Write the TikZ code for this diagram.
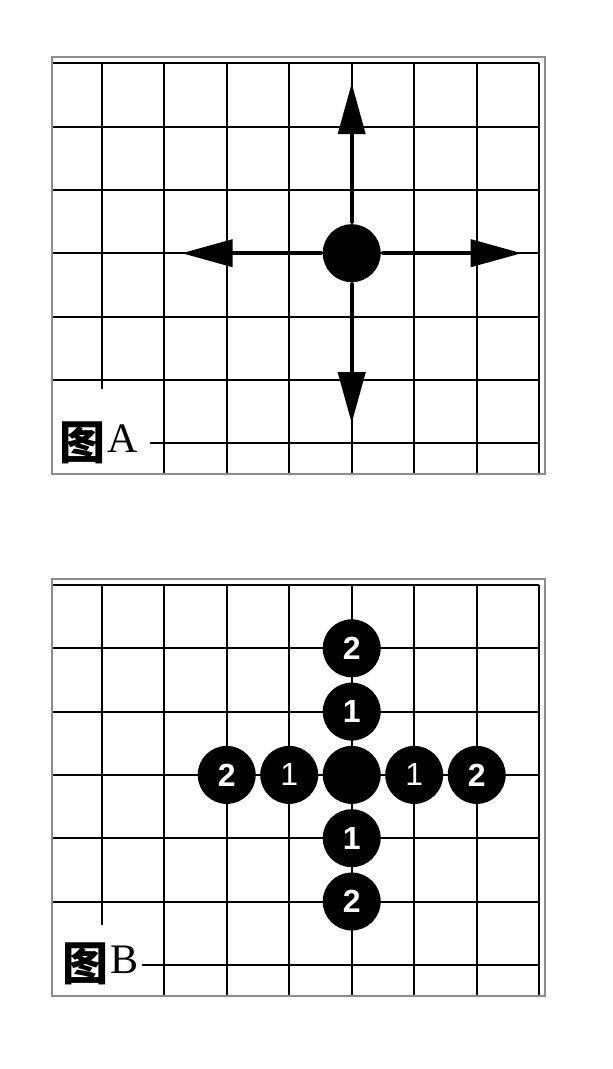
\documentclass[tikz,border=0pt]{standalone}
\usepackage{fontspec}
\setmainfont{Liberation Serif}
\newfontfamily\cjk{Noto Sans CJK SC}
\newfontfamily\stonefont{Liberation Sans}
\usetikzlibrary{arrows.meta}

\begin{document}
\begin{tikzpicture}[x=1pt, y=-1pt, line width=2pt,
    frame/.style={draw=black!45, line width=2.6pt},
    stone/.style={circle, fill=black, inner sep=0pt, minimum size=58pt, text=white,
      font=\stonefont\bfseries\fontsize{32}{32}\selectfont},
    thinstone/.style={stone, font=\stonefont\fontsize{32}{32}\selectfont},
    move/.style={line width=4pt, -{Triangle[length=51pt, width=27pt]}},
    figname/.style={inner sep=0pt, font=\cjk\bfseries\fontsize{46}{46}\selectfont},
    figletter/.style={inner sep=0pt, anchor=base west, font=\fontsize{42}{42}\selectfont}]
    \useasboundingbox (0,0) rectangle (613,1069);

    % board A
    \foreach \y in {63.3,126.6,189.9,253.2,316.5,379.8}
      \draw (53,\y) -- (539.2,\y);
    \draw (150,443.1) -- (539.2,443.1);
    \draw (101.7,63.3) -- (101.7,389);
    \foreach \x in {164.2,226.7,289.2,351.7,414.2,476.7,539.2}
      \draw (\x,63.3) -- (\x,474);
    \draw[frame] (52,57) rectangle (545,474);

    \node[stone] (CA) at (351.7,253.2) {};
    \coordinate (UpA) at (351.7,83.2);
    \coordinate (DownA) at (351.7,423.2);
    \coordinate (LeftA) at (181.7,253.2);
    \coordinate (RightA) at (521.7,253.2);
    \draw[move] (CA) -- (UpA);
    \draw[move] (CA) -- (DownA);
    \draw[move] (CA) -- (LeftA);
    \draw[move] (CA) -- (RightA);

    \node[figname] (TuA) at (82,442.5) {图};
    \node[figletter] (LA) at (106,452) {A};

    % board B
    \foreach \y in {585,648.3,711.6,774.9,838.2,901.5}
      \draw (53,\y) -- (539.2,\y);
    \draw (142,964.8) -- (539.2,964.8);
    \draw (101.7,585) -- (101.7,925);
    \foreach \x in {164.2,226.7,289.2,351.7,414.2,476.7,539.2}
      \draw (\x,585) -- (\x,996);
    \draw[frame] (52,579) rectangle (545,996);

    \node[stone] (CB) at (351.7,774.9) {};
    \node[stone] (U1) at (351.7,711.6) {1};
    \node[stone] (U2) at (351.7,648.3) {2};
    \node[stone] (D1) at (351.7,838.2) {1};
    \node[stone] (D2) at (351.7,901.5) {2};
    \node[thinstone] (L1) at (289.2,774.9) {1};
    \node[stone] (L2) at (226.7,774.9) {2};
    \node[thinstone] (R1) at (414.2,774.9) {1};
    \node[stone] (R2) at (476.7,774.9) {2};

    \node[figname] (TuB) at (85,964) {图};
    \node[figletter] (LB) at (109,973) {B};
\end{tikzpicture}
\end{document}
